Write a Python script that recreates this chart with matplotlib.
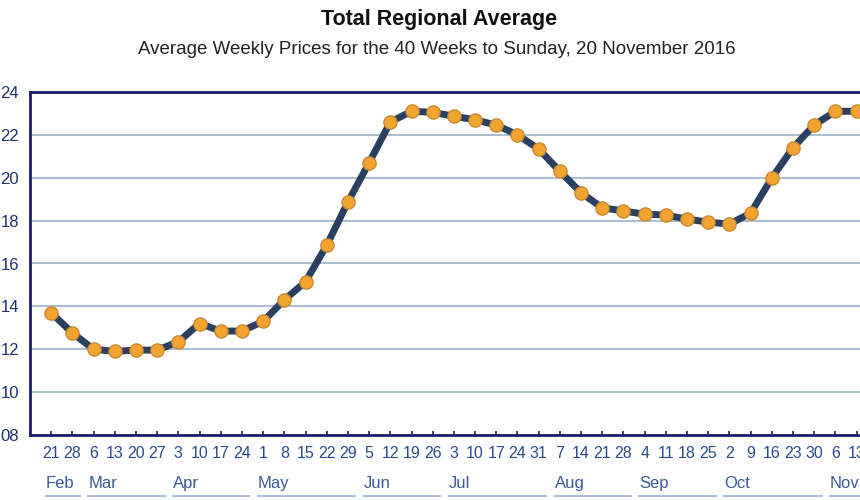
import matplotlib
matplotlib.use('Agg')
import matplotlib.pyplot as plt

plt.rcParams['font.family'] = ['Liberation Sans', 'DejaVu Sans']

# week ending days, Feb 21 .. Nov 20 2016
days = [21, 28, 6, 13, 20, 27, 3, 10, 17, 24, 1, 8, 15, 22, 29, 5, 12, 19, 26,
        3, 10, 17, 24, 31, 7, 14, 21, 28, 4, 11, 18, 25, 2, 9, 16, 23, 30, 6, 13, 20]
months = ['Feb', 'Mar', 'Apr', 'May', 'Jun', 'Jul', 'Aug', 'Sep', 'Oct', 'Nov']
weeks_per_month = [2, 4, 4, 5, 4, 5, 4, 4, 5, 3]
prices = [13.7, 12.76, 12.0, 11.9, 11.96, 11.96, 12.35, 13.2, 12.85, 12.85,
          13.3, 14.3, 15.15, 16.85, 18.87, 20.7, 22.6, 23.1, 23.05, 22.87,
          22.7, 22.46, 22.0, 21.34, 20.3, 19.3, 18.6, 18.45, 18.3, 18.26,
          18.07, 17.93, 17.84, 18.35, 19.99, 21.4, 22.46, 23.1, 23.1, 23.0]
yticks = [8, 10, 12, 14, 16, 18, 20, 22, 24]
ylabels = ['08', '10', '12', '14', '16', '18', '20', '22', '24']

navy = '#1c1c6b'
fig = plt.figure(figsize=(8.6, 5), dpi=100)
ax = fig.add_axes([30/860, 1 - 435/500, 869/860, 343/500])

x = list(range(len(prices)))
ax.plot(x, prices, color='#2a4060', lw=5, zorder=3, solid_joinstyle='round')
ax.plot(x, prices, 'o', ms=9.5, mfc='#f2a330', mec='#c98a35', mew=1.0, zorder=4)

ax.set_xlim(-1, 40)
ax.set_ylim(8, 24)
ax.set_yticks(yticks)
ax.set_yticklabels(ylabels)
ax.set_xticks(x)
ax.set_xticklabels([str(d) for d in days])
ax.tick_params(axis='y', length=0, pad=8, labelsize=12, labelcolor='#1f2f6f')
ax.tick_params(axis='x', direction='in', length=3, width=1.2, color=navy,
               pad=8, labelsize=11.5, labelcolor='#2b4a8b')
ax.grid(axis='y', color='#9db3c6', lw=1.2)
ax.set_axisbelow(True)
for s in ['left', 'top', 'bottom']:
    ax.spines[s].set_color(navy)
    ax.spines[s].set_linewidth(2)
ax.spines['right'].set_visible(False)

# month labels with underlines
tr = ax.get_xaxis_transform()
start = 0
for m, n in zip(months, weeks_per_month):
    ax.text(start - 0.25, -0.14, m, transform=tr, ha='left', va='center',
            fontsize=12, color='#3b5998')
    ax.plot([start - 0.25, start + n - 1 + 0.35], [-0.178, -0.178], transform=tr,
            color='#a8c0dc', lw=1.5, clip_on=False)
    start += n

fig.text(439/860, 1 - 20/500, 'Total Regional Average', ha='center', va='center',
         fontsize=15.5, fontweight='bold', color='#111111')
fig.text(437/860, 1 - 49/500,
         'Average Weekly Prices for the 40 Weeks to Sunday, 20 November 2016',
         ha='center', va='center', fontsize=13.5, color='#222222')

fig.savefig('out.png', dpi=100)
